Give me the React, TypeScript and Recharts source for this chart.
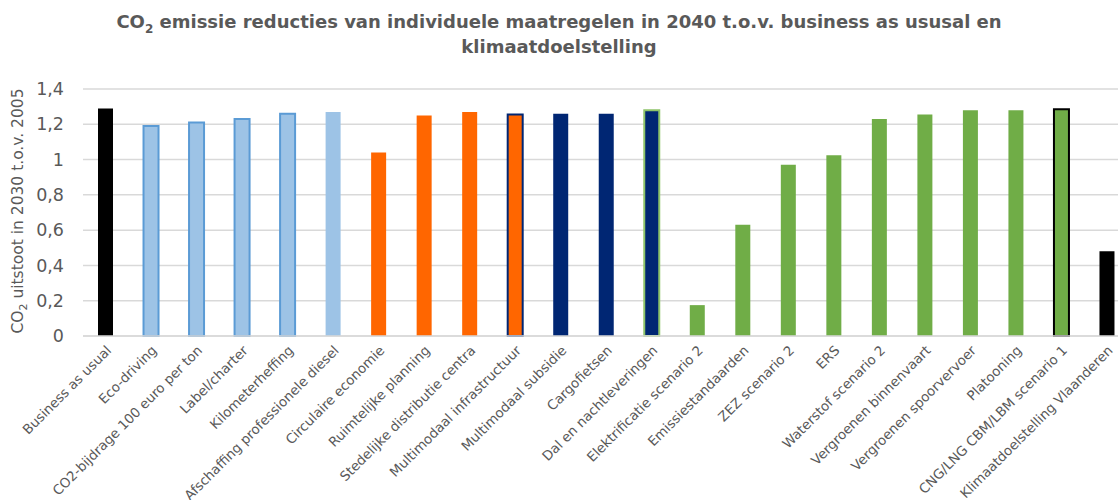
import React from 'react';
import { BarChart, Bar, Cell, XAxis, YAxis, CartesianGrid } from 'recharts';

const categories = [
  'Business as usual',
  'Eco-driving',
  'CO2-bijdrage 100 euro per ton',
  'Label/charter',
  'Kilometerheffing',
  'Afschaffing professionele diesel',
  'Circulaire economie',
  'Ruimtelijke planning',
  'Stedelijke distributie centra',
  'Multimodaal infrastructuur',
  'Multimodaal subsidie',
  'Cargofietsen',
  'Dal en nachtleveringen',
  'Elektrificatie scenario 2',
  'Emissiestandaarden',
  'ZEZ scenario 2',
  'ERS',
  'Waterstof scenario 2',
  'Vergroenen binnenvaart',
  'Vergroenen spoorvervoer',
  'Platooning',
  'CNG/LNG CBM/LBM scenario 1',
  'Klimaatdoelstelling Vlaanderen',
];

const values = [
  1.29, 1.19, 1.21, 1.23, 1.26, 1.27, 1.04, 1.25, 1.27, 1.255, 1.26, 1.26, 1.28,
  0.175, 0.63, 0.97, 1.025, 1.23, 1.255, 1.28, 1.28, 1.285, 0.48,
];

const fills = [
  '#000000', '#9dc3e6', '#9dc3e6', '#9dc3e6', '#9dc3e6', '#9dc3e6', '#ff6600',
  '#ff6600', '#ff6600', '#ff6600', '#002673', '#002673', '#002673', '#70ad47',
  '#70ad47', '#70ad47', '#70ad47', '#70ad47', '#70ad47', '#70ad47', '#70ad47',
  '#70ad47', '#000000',
];

const borders = [
  'none', '#5b9bd5', '#5b9bd5', '#5b9bd5', '#5b9bd5', 'none', 'none',
  'none', 'none', '#002673', 'none', 'none', '#8fc46a', 'none',
  'none', 'none', 'none', 'none', 'none', 'none', 'none',
  '#000000', 'none',
];

const yTicks = [0, 0.2, 0.4, 0.6, 0.8, 1, 1.2, 1.4];

const data = categories.map((name, i) => ({ name, value: values[i] }));

const font = '"DejaVu Sans", Verdana, sans-serif';

const XTick = (props: any) => {
  const { x, y, payload } = props;
  return (
    <g transform={`translate(${x + 3},${y + 4})`}>
      <text
        x={0}
        y={0}
        dy="0.35em"
        textAnchor="end"
        transform="rotate(-45)"
        fontSize={13.4}
        fontFamily={font}
        fill="#595959"
      >
        {payload.value}
      </text>
    </g>
  );
};

export default function App() {
  return (
    <div
      style={{
        position: 'fixed',
        left: 0,
        top: 0,
        width: 1118,
        height: 500,
        overflow: 'hidden',
        background: '#fff',
        fontFamily: font,
      }}
    >
      <div
        style={{
          position: 'absolute',
          left: 0,
          top: 9,
          width: 1118,
          textAlign: 'center',
          fontSize: 18,
          fontWeight: 'bold',
          color: '#595959',
          lineHeight: '25px',
        }}
      >
        CO<sub style={{ fontSize: 12, lineHeight: 0 }}>2</sub> emissie reducties van individuele maatregelen in 2040 t.o.v. business as ususal en
        <br />
        klimaatdoelstelling
      </div>
      <div
        style={{
          position: 'absolute',
          left: 18,
          top: 211,
          transform: 'translate(-50%, -50%) rotate(-90deg)',
          whiteSpace: 'nowrap',
          fontSize: 15.5,
          color: '#595959',
        }}
      >
        CO<sub style={{ fontSize: 11, lineHeight: 0 }}>2</sub> uitstoot in 2030 t.o.v. 2005
      </div>
      <div style={{ position: 'absolute', left: 0, top: 0 }}>
        <BarChart
          width={1130}
          height={500}
          data={data}
          margin={{ top: 89, right: 0, bottom: 0, left: 0 }}
        >
          <CartesianGrid vertical={false} stroke="#d9d9d9" strokeWidth={1.5} />
          <XAxis
            dataKey="name"
            interval={0}
            height={164}
            tickLine={false}
            axisLine={{ stroke: '#d9d9d9', strokeWidth: 1.5 }}
            tick={<XTick />}
          />
          <YAxis
            width={83}
            domain={[0, 1.4]}
            ticks={yTicks}
            axisLine={false}
            tickLine={false}
            tickMargin={13}
            tickFormatter={(v: number) => String(v).replace('.', ',')}
            tick={{ fontSize: 17.5, fill: '#595959', fontFamily: font }}
          />
          <Bar dataKey="value" barSize={15} isAnimationActive={false}>
            {data.map((d, i) => (
              <Cell
                key={d.name}
                fill={fills[i]}
                stroke={borders[i]}
                strokeWidth={borders[i] === 'none' ? 0 : 2}
              />
            ))}
          </Bar>
        </BarChart>
      </div>
    </div>
  );
}
